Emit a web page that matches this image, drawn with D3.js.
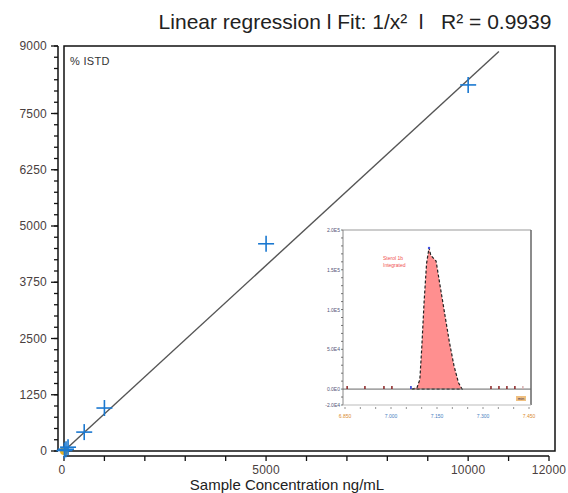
<!DOCTYPE html>
<html>
<head>
<meta charset="utf-8">
<script src="https://cdn.jsdelivr.net/npm/d3@7"></script>
<style>
  body { margin: 0; background: #fff; }
  text { font-family: "Liberation Sans", Arial, sans-serif; }
</style>
</head>
<body>
<div id="chart"></div>
<script>
// calibration standards (ng/mL, % ISTD)
var concs = [10, 50, 100, 500, 1000, 5000, 10000];
var responses = [10, 40, 85, 420, 955, 4605, 8135];
var blankPoint = [0, 0];
var fitSlope = 0.825, fitIntercept = 0, fitEnd = 10760;

var yTickLabels = [0, 1250, 2500, 3750, 5000, 6250, 7500, 9000];
var xTickLabels = [0, 5000, 10000, 12000];

// inset chromatogram
var peakTime = [7.068, 7.085, 7.094, 7.100, 7.108, 7.116, 7.124, 7.130, 7.147, 7.160, 7.175, 7.190, 7.205, 7.220, 7.232];
var peakInt = [0, 2000, 12000, 50000, 110000, 158000, 177500, 168000, 161000, 130000, 95000, 60000, 30000, 8000, 0];
var markTimes = [6.857, 6.915, 6.977, 7.003, 7.326, 7.352, 7.378, 7.404, 7.430];
var insetYLabels = ["2.0E5", "1.5E5", "1.0E5", "5.0E4", "0.0E0", "-2.0E4"];
var insetYVals = [200000, 150000, 100000, 50000, 0, -20000];
var insetXLabels = ["6.850", "7.000", "7.150", "7.300", "7.450"];
var insetXVals = [6.85, 7.0, 7.15, 7.3, 7.45];

var W = 568, H = 493;
var svg = d3.select("#chart").append("svg")
  .attr("width", W).attr("height", H);

var x = d3.scaleLinear().domain([0, 12000]).range([64, 549]);
var y = d3.scaleLinear().domain([0, 9000]).range([451, 46]);

// title
svg.append("text")
  .attr("x", 355).attr("y", 29)
  .attr("text-anchor", "middle")
  .attr("font-size", 21)
  .attr("fill", "#222")
  .attr("xml:space", "preserve")
  .style("white-space", "pre")
  .text("Linear regression l Fit: 1/x²  l   R² = 0.9939");

// frame
svg.append("rect")
  .attr("x", 64).attr("y", 46)
  .attr("width", 555 - 64).attr("height", 451 - 46)
  .attr("fill", "none").attr("stroke", "#111").attr("stroke-width", 1.5);

// y axis (left, offset)
var yAxis = svg.append("g").attr("transform", "translate(58,0)");
yAxis.append("line").attr("x1", 0).attr("x2", 0).attr("y1", y(9000)).attr("y2", y(0))
  .attr("stroke", "#111").attr("stroke-width", 1.5);
yAxis.selectAll(".minor").data(d3.range(0, 9001, 250)).enter().append("line")
  .attr("x1", -4).attr("x2", 0)
  .attr("y1", function(d) { return y(d) }).attr("y2", function(d) { return y(d) })
  .attr("stroke", "#111").attr("stroke-width", 1.3);
yAxis.selectAll(".major").data(yTickLabels).enter().append("line")
  .attr("x1", -7).attr("x2", 0)
  .attr("y1", function(d) { return y(d) }).attr("y2", function(d) { return y(d) })
  .attr("stroke", "#111").attr("stroke-width", 1.3);
yAxis.selectAll(".lab").data(yTickLabels).enter().append("text")
  .attr("x", -11).attr("y", function(d) { return y(d) + 4 })
  .attr("text-anchor", "end").attr("font-size", 12)
  .attr("letter-spacing", 0.2)
  .attr("fill", "#4a4040")
  .text(function(d) { return d });

// x axis (bottom, offset)
var xAxis = svg.append("g").attr("transform", "translate(0,456)");
xAxis.append("line").attr("x1", x(0)).attr("x2", x(12000)).attr("y1", 0).attr("y2", 0)
  .attr("stroke", "#111").attr("stroke-width", 1.5);
xAxis.selectAll(".tick").data(d3.range(0, 12001, 1000)).enter().append("line")
  .attr("x1", function(d) { return x(d) }).attr("x2", function(d) { return x(d) })
  .attr("y1", 0).attr("y2", 5)
  .attr("stroke", "#111").attr("stroke-width", 1.3);
xAxis.selectAll(".lab").data(xTickLabels).enter().append("text")
  .attr("x", function(d) { return d == 0 ? x(d) - 2 : x(d) }).attr("y", 18)
  .attr("text-anchor", "middle").attr("font-size", 12)
  .attr("letter-spacing", 0.2)
  .attr("fill", "#4a4040")
  .text(function(d) { return d });

svg.append("text")
  .attr("x", 287).attr("y", 490)
  .attr("text-anchor", "middle").attr("font-size", 15)
  .attr("fill", "#222")
  .text("Sample Concentration ng/mL");

svg.append("text")
  .attr("x", 70).attr("y", 65)
  .attr("font-size", 11).attr("fill", "#333")
  .attr("letter-spacing", 0.3)
  .text("% ISTD");

// inset chromatogram
var ix = d3.scaleLinear().domain([6.85, 7.45]).range([345, 529]);
var iy = d3.scaleLinear().domain([-20000, 200000]).range([405, 230]);
var inset = svg.append("g");
inset.append("rect").attr("x", 343).attr("y", 230).attr("width", 188).attr("height", 175)
  .attr("fill", "#fff").attr("stroke", "none");
inset.append("line").attr("x1", 343).attr("x2", 531).attr("y1", 230).attr("y2", 230)
  .attr("stroke", "#999").attr("stroke-width", 1.2);
inset.append("line").attr("x1", 531).attr("x2", 531).attr("y1", 230).attr("y2", 405)
  .attr("stroke", "#666").attr("stroke-width", 1.5);
inset.append("line").attr("x1", 343).attr("x2", 343).attr("y1", 230).attr("y2", 405)
  .attr("stroke", "#888").attr("stroke-width", 1);
inset.append("line").attr("x1", 343).attr("x2", 531).attr("y1", 405).attr("y2", 405)
  .attr("stroke", "#bbb").attr("stroke-width", 1);
inset.selectAll(".iyt").data(d3.range(-20000, 200001, 10000)).enter().append("line")
  .attr("x1", 341).attr("x2", 343)
  .attr("y1", function(d) { return iy(d) }).attr("y2", function(d) { return iy(d) })
  .attr("stroke", "#555").attr("stroke-width", 0.8);
inset.selectAll(".iyl").data(insetYVals).enter().append("text")
  .attr("x", 340).attr("y", function(d) { return iy(d) + 2 })
  .attr("text-anchor", "end").attr("font-size", 5)
  .attr("fill", "#557")
  .text(function(d, i) { return insetYLabels[i] });
inset.selectAll(".ixt").data(d3.range(6.85, 7.46, 0.05)).enter().append("line")
  .attr("x1", function(d) { return ix(d) }).attr("x2", function(d) { return ix(d) })
  .attr("y1", 407).attr("y2", 409)
  .attr("stroke", "#777").attr("stroke-width", 0.8);
inset.selectAll(".ixl").data(insetXVals).enter().append("text")
  .attr("x", function(d) { return ix(d) }).attr("y", 418)
  .attr("text-anchor", "middle").attr("font-size", 5)
  .attr("fill", function(d, i) { return i == 0 || i == 4 ? "#d98a30" : "#4a80c0" })
  .text(function(d, i) { return insetXLabels[i] });

var peak = peakTime.map(function(t, i) { return [t, peakInt[i]] });
inset.append("path").datum(peak)
  .attr("fill", "#ff8f8f").attr("stroke", "#222").attr("stroke-width", 1.2)
  .attr("stroke-dasharray", "3,2")
  .attr("d", d3.area()
    .x(function(d) { return ix(d[0]) })
    .y0(iy(0))
    .y1(function(d) { return iy(d[1]) }));
inset.append("line").attr("x1", 343).attr("x2", 531).attr("y1", iy(0)).attr("y2", iy(0))
  .attr("stroke", "#666").attr("stroke-width", 1);
inset.selectAll(".mk").data(markTimes).enter().append("line")
  .attr("x1", function(d) { return ix(d) }).attr("x2", function(d) { return ix(d) })
  .attr("y1", iy(0) - 3).attr("y2", iy(0))
  .attr("stroke", function(d, i) { return i == markTimes.length - 1 ? "#d8b0b0" : "#8a2020" })
  .attr("stroke-width", 1.5);
inset.append("line").attr("x1", ix(7.065)).attr("x2", ix(7.065)).attr("y1", iy(0) - 3).attr("y2", iy(0))
  .attr("stroke", "#2030d0").attr("stroke-width", 1.5);
inset.append("circle").attr("cx", ix(7.124)).attr("cy", iy(177500)).attr("r", 1.2)
  .attr("fill", "#4050e0");
inset.append("text").attr("x", 383).attr("y", 260).attr("font-size", 5).attr("fill", "#f05050")
  .text("Sterol 1b");
inset.append("text").attr("x", 383).attr("y", 267).attr("font-size", 5).attr("fill", "#f05050")
  .text("Integrated");
inset.append("rect").attr("x", 516).attr("y", 396).attr("width", 10).attr("height", 5)
  .attr("fill", "#f0c080");
inset.append("text").attr("x", 521).attr("y", 400).attr("text-anchor", "middle")
  .attr("font-size", 4).attr("fill", "#335").text("min");

// regression line
svg.append("line")
  .attr("x1", x(0)).attr("y1", y(fitIntercept))
  .attr("x2", x(fitEnd)).attr("y2", y(fitIntercept + fitSlope * fitEnd))
  .attr("stroke", "#555").attr("stroke-width", 1.4);

// blank
svg.append("circle").attr("cx", x(blankPoint[0])).attr("cy", y(blankPoint[1])).attr("r", 4)
  .attr("fill", "#e8b020");

// standards as crosses
var pts = concs.map(function(c, i) { return [c, responses[i]] });
var cross = svg.selectAll(".pt").data(pts).enter().append("g")
  .attr("transform", function(d) { return "translate(" + x(d[0]) + "," + y(d[1]) + ")" });
cross.append("line").attr("x1", -8).attr("x2", 8).attr("y1", 0).attr("y2", 0)
  .attr("stroke", "#1a78d0").attr("stroke-width", 1.6);
cross.append("line").attr("x1", 0).attr("x2", 0).attr("y1", -8).attr("y2", 8)
  .attr("stroke", "#1a78d0").attr("stroke-width", 1.6);
</script>
</body>
</html>
